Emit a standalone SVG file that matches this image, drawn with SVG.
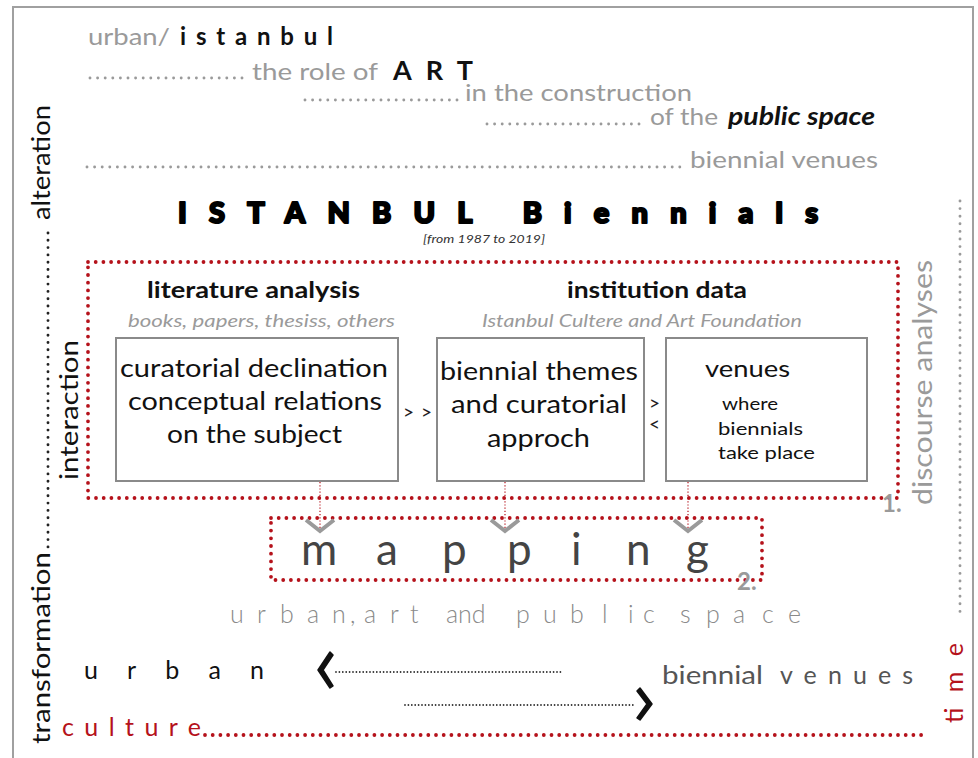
<svg xmlns="http://www.w3.org/2000/svg" width="978" height="758" viewBox="0 0 978 758">
<style>
text{font-family:Lato,"Open Sans","Liberation Sans",sans-serif}
.g{fill:#9a9a9a}
.k{fill:#111}
.r{fill:#b5121b}
.dg{stroke:#9a9a9a;stroke-width:2.9;stroke-linecap:round;stroke-dasharray:0 7.6;fill:none}
.dr{stroke:#b5121b;stroke-width:3.8;stroke-linecap:round;stroke-dasharray:0 7.7;fill:none}
.dk{stroke:#222;stroke-width:2.9;stroke-linecap:round;stroke-dasharray:0 7.3;fill:none}
.fk{stroke:#333;stroke-width:1.8;stroke-linecap:round;stroke-dasharray:0 3.4;fill:none}
.fr{stroke:#b5121b;stroke-width:1.2;stroke-dasharray:1.2 2;fill:none}
.box{fill:#fff;stroke:#8a8a8a;stroke-width:2}
.chev{fill:none;stroke:#9a9a9a;stroke-width:4;stroke-linejoin:miter}
.bt{font-size:25px;fill:#111}
</style>

<!-- frame -->
<path d="M13 758 V7 H973 V758" fill="none" stroke="#a0a0a0" stroke-width="2"/>

<!-- header lines -->
<g id="header">
  <text x="88" y="45" font-size="24" class="g" textLength="82" lengthAdjust="spacingAndGlyphs">urban/</text>
  <text x="180" y="45" font-size="24" font-weight="700" class="k" textLength="153" lengthAdjust="spacing">istanbul</text>
  <line x1="90" y1="78" x2="248" y2="78" class="dg"/>
  <text x="252" y="80" font-size="24" class="g" textLength="126" lengthAdjust="spacingAndGlyphs">the role of</text>
  <text x="393" y="80" font-size="27" font-weight="700" class="k" textLength="80" lengthAdjust="spacing">ART</text>
  <line x1="305" y1="100" x2="460" y2="100" class="dg"/>
  <text x="465" y="101" font-size="24" class="g" textLength="227" lengthAdjust="spacingAndGlyphs">in the construction</text>
  <line x1="487" y1="124" x2="645" y2="124" class="dg"/>
  <text x="650" y="125" font-size="24" class="g" textLength="68" lengthAdjust="spacingAndGlyphs">of the</text>
  <text x="728" y="125" font-size="24" font-weight="700" font-style="italic" class="k" textLength="147" lengthAdjust="spacingAndGlyphs">public space</text>
  <line x1="87" y1="167" x2="684" y2="167" class="dg"/>
  <text x="690" y="168" font-size="24" class="g" textLength="188" lengthAdjust="spacingAndGlyphs">biennial venues</text>
</g>

<g id="title">
  <text x="178" y="223" font-family="'DejaVu Sans',sans-serif" font-size="29" font-weight="900" fill="#000" stroke="#000" stroke-width="2.2" stroke-linejoin="round" textLength="640" lengthAdjust="spacing">ISTANBUL Biennials</text>
  <text x="423" y="243" font-size="12" font-style="italic" fill="#333" textLength="122" lengthAdjust="spacingAndGlyphs">[from 1987 to 2019]</text>
</g>

<!-- side labels -->
<g id="side-left">
  <text transform="translate(50,220) rotate(-90)" font-size="25" class="k" textLength="115" lengthAdjust="spacingAndGlyphs">alteration</text>
  <line x1="48" y1="233" x2="48" y2="552" class="dk"/>
  <text transform="translate(50,744) rotate(-90)" font-size="25" class="k" textLength="192" lengthAdjust="spacingAndGlyphs">transformation</text>
  <text transform="translate(78,480) rotate(-90)" font-size="25" class="k" textLength="140" lengthAdjust="spacingAndGlyphs">interaction</text>
</g>
<g id="side-right">
  <text transform="translate(932,505) rotate(-90)" font-size="27" class="g" textLength="245" lengthAdjust="spacingAndGlyphs">discourse analyses</text>
  <line x1="960" y1="201" x2="960" y2="617" class="dg"/>
  <text transform="translate(963,723) rotate(-90)" font-size="25" class="r" textLength="80" lengthAdjust="spacing">time</text>
</g>

<!-- stage 1 -->
<g id="stage1">
  <rect x="88" y="262" width="810" height="236" class="dr"/>
  <text x="147" y="298" font-size="22" font-weight="700" class="k" textLength="213" lengthAdjust="spacingAndGlyphs">literature analysis</text>
  <text x="128" y="327" font-size="17" font-style="italic" class="g" textLength="267" lengthAdjust="spacingAndGlyphs">books, papers, thesiss, others</text>
  <text x="567" y="298" font-size="22" font-weight="700" class="k" textLength="180" lengthAdjust="spacingAndGlyphs">institution data</text>
  <text x="482" y="327" font-size="17" font-style="italic" class="g" textLength="320" lengthAdjust="spacingAndGlyphs">Istanbul Cultere and Art Foundation</text>
  <text x="882" y="512" font-size="24" font-weight="700" class="g">1.</text>
</g>

<g id="box-literature">
  <rect x="116" y="338" width="282" height="143" class="box"/>
  <text x="120" y="377" class="bt" textLength="268" lengthAdjust="spacingAndGlyphs">curatorial declination</text>
  <text x="128" y="410" class="bt" textLength="254" lengthAdjust="spacingAndGlyphs">conceptual relations</text>
  <text x="167" y="443" class="bt" textLength="175" lengthAdjust="spacingAndGlyphs">on the subject</text>
</g>

<g id="box-themes">
  <rect x="437" y="338" width="207" height="143" class="box"/>
  <text x="440" y="380" class="bt" textLength="198" lengthAdjust="spacingAndGlyphs">biennial themes</text>
  <text x="451" y="413" class="bt" textLength="176" lengthAdjust="spacingAndGlyphs">and curatorial</text>
  <text x="487" y="447" class="bt" textLength="103" lengthAdjust="spacingAndGlyphs">approch</text>
</g>

<g id="box-venues">
  <rect x="666" y="338" width="201" height="143" class="box"/>
  <text x="705" y="377" font-size="24" class="k" textLength="85" lengthAdjust="spacingAndGlyphs">venues</text>
  <text x="722" y="410" font-size="18" class="k" textLength="56" lengthAdjust="spacingAndGlyphs">where</text>
  <text x="718" y="435" font-size="18" class="k" textLength="85" lengthAdjust="spacingAndGlyphs">biennials</text>
  <text x="718" y="459" font-size="18" class="k" textLength="97" lengthAdjust="spacingAndGlyphs">take place</text>
</g>

<!-- stage 2 -->
<g id="mapping">
  <rect x="271" y="518" width="491" height="62" class="dr"/>
  <text y="565" font-size="44" fill="#444" font-family="'Open Sans',Lato,sans-serif"><tspan x="301">m</tspan><tspan x="376">a</tspan><tspan x="442">p</tspan><tspan x="507">p</tspan><tspan x="571">i</tspan><tspan x="626">n</tspan><tspan x="686">g</tspan></text>
  <text x="737" y="590" font-size="24" font-weight="700" class="g">2.</text>
  <text y="623" font-size="25" font-weight="300" fill="#8a8a8a" font-family="'Open Sans',Lato,sans-serif"><tspan x="230">u</tspan><tspan x="257">r</tspan><tspan x="280">b</tspan><tspan x="307">a</tspan><tspan x="332">n</tspan><tspan x="350">,</tspan><tspan x="364">a</tspan><tspan x="390">r</tspan><tspan x="410">t</tspan><tspan x="446">and</tspan><tspan x="516">p</tspan><tspan x="543">u</tspan><tspan x="570">b</tspan><tspan x="602">l</tspan><tspan x="628">i</tspan><tspan x="643">c</tspan><tspan x="680">s</tspan><tspan x="706">p</tspan><tspan x="733">a</tspan><tspan x="762">c</tspan><tspan x="788">e</tspan></text>
</g>

<!-- connectors -->
<g id="connectors">
  <line x1="320" y1="482" x2="320" y2="530" class="fr"/>
  <line x1="505" y1="482" x2="505" y2="530" class="fr"/>
  <line x1="688" y1="482" x2="688" y2="530" class="fr"/>
  <polyline points="306,520 320,531 334,520" class="chev"/>
  <polyline points="491,520 505,531 519,520" class="chev"/>
  <polyline points="674,520 688,531 702,520" class="chev"/>
  <text x="403" y="419" font-size="19" fill="#222" textLength="29" lengthAdjust="spacing">&gt;&gt;</text>
  <text x="649" y="410" font-size="19" fill="#222">&gt;</text>
  <text x="649" y="431" font-size="19" fill="#222">&lt;</text>
  <line x1="336" y1="672" x2="563" y2="672" class="fk"/>
  <polygon points="330,652 318,670 330,688 333,686 323,670 333,655" fill="#111" stroke="#111" stroke-width="1.5" stroke-linejoin="round"/>
  <line x1="405" y1="705" x2="634" y2="705" class="fk"/>
  <polygon points="640,688 652,704 640,720 637,718 647,704 637,691" fill="#111" stroke="#111" stroke-width="1.5" stroke-linejoin="round"/>
</g>

<!-- bottom labels -->
<g id="bottom">
  <text x="84" y="679" font-size="25" class="k" textLength="180" lengthAdjust="spacing">urban</text>
  <text x="662" y="684" font-size="25" fill="#555" textLength="101" lengthAdjust="spacingAndGlyphs">biennial</text>
  <text x="780" y="684" font-size="25" fill="#555" textLength="133" lengthAdjust="spacing">venues</text>
  <text x="62" y="736" font-size="25" class="r" textLength="139" lengthAdjust="spacing">culture</text>
  <line x1="205" y1="735" x2="923" y2="735" class="dr"/>
</g>
</svg>
